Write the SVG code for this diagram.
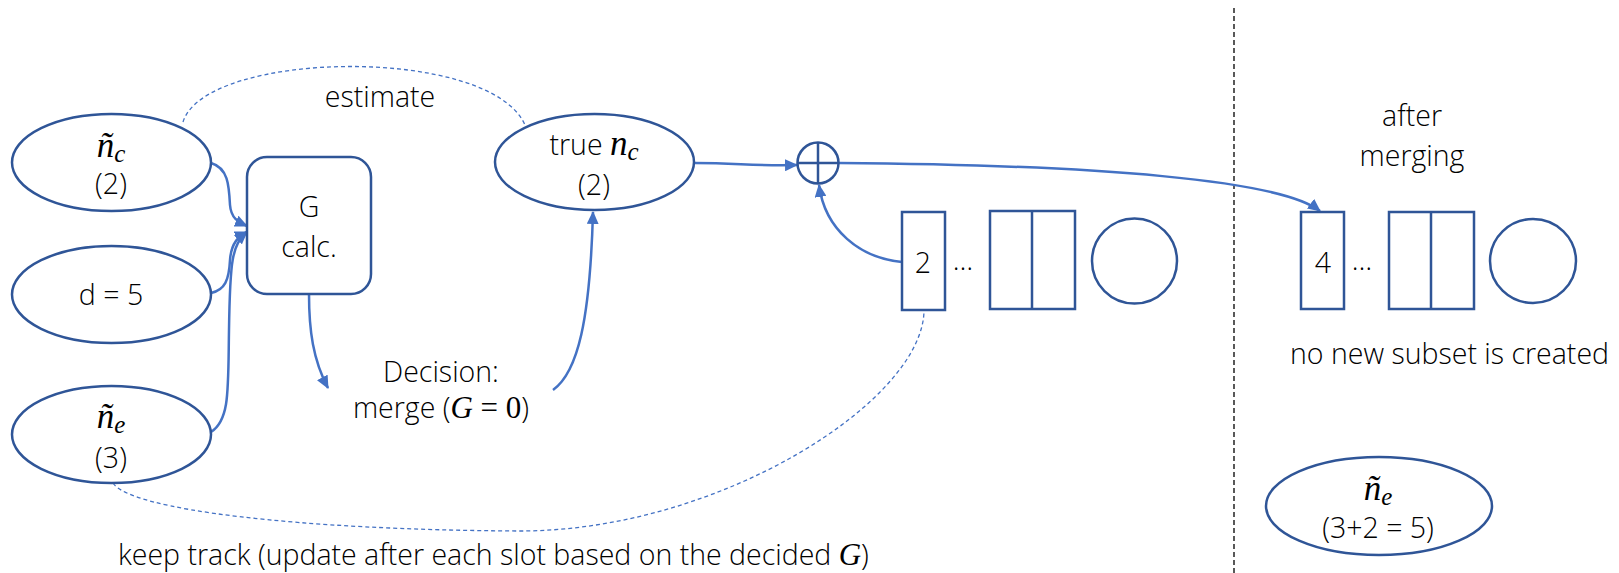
<svg xmlns="http://www.w3.org/2000/svg" width="1619" height="573" viewBox="0 0 1619 573">
  <style>
    .node { fill: #ffffff; stroke: #2F5597; stroke-width: 2.5; }
    .edge { fill: none; stroke: #4472C4; stroke-width: 2.5; }
    .dash { fill: none; stroke: #4472C4; stroke-width: 1.3; stroke-dasharray: 4 3; }
    .sep { fill: none; stroke: #000000; stroke-width: 1.3; stroke-dasharray: 5 3; }
    .t { font-family: "Open Sans", "Liberation Sans", sans-serif; font-weight: 300; font-size: 28.5px; fill: #000000; }
    .m { font-family: "Liberation Serif", "DejaVu Serif", serif; font-style: italic; font-weight: 400; fill: #000000; }
    .mu { font-family: "Liberation Serif", "DejaVu Serif", serif; font-weight: 400; fill: #000000; }
    .c { text-anchor: middle; }
  </style>
  <defs>
    <marker id="arrow" markerUnits="userSpaceOnUse" markerWidth="14" markerHeight="12" refX="12" refY="6" orient="auto">
      <path d="M0,0 L13,6 L0,12 z" fill="#4472C4"/>
    </marker>
  </defs>

  <!-- separator between before / after -->
  <line class="sep" x1="1234" y1="8" x2="1234" y2="573"/>

  <!-- connectors -->
  <g id="connectors">
    <path class="dash" d="M183,122 C205,50 490,45 525,125"/>
    <path class="dash" d="M113,483 C130,510 300,530 520,531 C720,531 924,400 924,310"/>
    <path class="edge" marker-end="url(#arrow)" d="M211,163 C228,168 229,185 230,205 C231,218 238,222 247,226"/>
    <path class="edge" marker-end="url(#arrow)" d="M211,293 C225,290 229,280 230,260 C231,245 238,236 247,232"/>
    <path class="edge" marker-end="url(#arrow)" d="M211,432 C230,420 228,390 229,330 C230,260 232,245 247,232"/>
    <path class="edge" marker-end="url(#arrow)" d="M309,294 C309,330 313,360 328,388"/>
    <path class="edge" marker-end="url(#arrow)" d="M553,390 C578,372 590,320 593,212"/>
    <path class="edge" marker-end="url(#arrow)" d="M694,163 C740,163 750,166 797,165"/>
    <path class="edge" marker-end="url(#arrow)" d="M902,262 C860,258 825,230 819,185"/>
    <path class="edge" marker-end="url(#arrow)" d="M839,163 C1100,165 1280,180 1320,211"/>
  </g>

  <!-- inputs -->
  <g id="nc-est">
    <ellipse class="node" cx="111.5" cy="162.5" rx="99.5" ry="48.5"/>
    <text class="m c" x="111" y="157" font-size="35">ñ<tspan font-size="25" dy="5">c</tspan></text>
    <text class="t c" x="111" y="194">(2)</text>
  </g>
  <g id="d-value">
    <ellipse class="node" cx="111.5" cy="294.5" rx="99.5" ry="48.5"/>
    <text class="t c" x="111" y="305">d = 5</text>
  </g>
  <g id="ne-est">
    <ellipse class="node" cx="111.5" cy="434.5" rx="99.5" ry="48.5"/>
    <text class="m c" x="111" y="428" font-size="35">ñ<tspan font-size="25" dy="5">e</tspan></text>
    <text class="t c" x="111" y="468">(3)</text>
  </g>

  <g id="g-calc">
    <rect class="node" x="247" y="157" width="124" height="137" rx="20"/>
    <text class="t c" x="309" y="217">G</text>
    <text class="t c" x="309" y="257">calc.</text>
  </g>

  <g id="decision">
    <text class="t c" x="441" y="382">Decision:</text>
    <text class="t c" x="441" y="418">merge (<tspan class="m" font-size="31">G</tspan><tspan class="mu" font-size="31"> = 0</tspan>)</text>
  </g>

  <g id="true-nc">
    <ellipse class="node" cx="594.5" cy="162" rx="99.5" ry="48"/>
    <text class="t c" x="594" y="155">true <tspan class="m" font-size="35">n</tspan><tspan class="m" font-size="25" dy="5">c</tspan></text>
    <text class="t c" x="594" y="195">(2)</text>
  </g>

  <g id="adder">
    <circle class="node" cx="818" cy="163" r="20.5"/>
    <line class="node" x1="818" y1="142.5" x2="818" y2="183.5"/>
    <line class="node" x1="797.5" y1="163" x2="838.5" y2="163"/>
  </g>

  <!-- subsets before merging -->
  <g id="subsets-before">
    <rect class="node" x="902" y="212" width="43" height="98"/>
    <text class="t c" x="923" y="273">2</text>
    <text class="t c" x="963" y="270">…</text>
    <rect class="node" x="990" y="211" width="85" height="98"/>
    <line class="node" x1="1032" y1="211" x2="1032" y2="309"/>
    <circle class="node" cx="1134.5" cy="261" r="42.5"/>
  </g>

  <g id="estimate-label">
    <text class="t c" x="380" y="107">estimate</text>
  </g>

  <g id="track-label">
    <text class="t" x="118" y="565">keep track (update after each slot based on the decided <tspan class="m" font-size="31">G</tspan>)</text>
  </g>

  <!-- after merging -->
  <g id="after-title">
    <text class="t c" x="1412" y="126">after</text>
    <text class="t c" x="1412" y="166">merging</text>
  </g>
  <g id="subsets-after">
    <rect class="node" x="1301" y="212" width="43" height="97"/>
    <text class="t c" x="1323" y="273">4</text>
    <text class="t c" x="1362" y="270">…</text>
    <rect class="node" x="1389" y="212" width="85" height="97"/>
    <line class="node" x1="1431" y1="212" x2="1431" y2="309"/>
    <ellipse class="node" cx="1533" cy="261" rx="43" ry="42"/>
  </g>
  <g id="after-note">
    <text class="t" x="1290" y="364">no new subset is created</text>
  </g>
  <g id="ne-after">
    <ellipse class="node" cx="1379" cy="506" rx="113" ry="49"/>
    <text class="m c" x="1378" y="500" font-size="35">ñ<tspan font-size="25" dy="5">e</tspan></text>
    <text class="t c" x="1378" y="538">(3+2 = 5)</text>
  </g>
</svg>
